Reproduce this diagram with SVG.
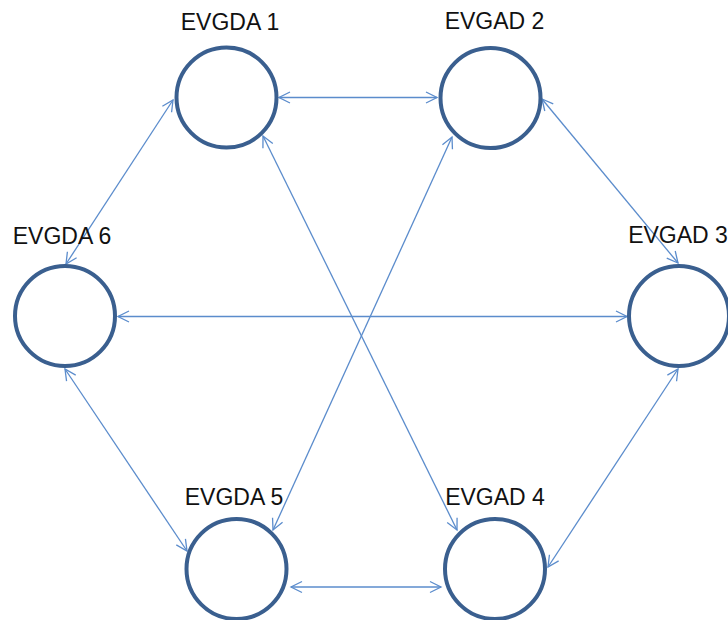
<svg xmlns="http://www.w3.org/2000/svg" width="728" height="620" viewBox="0 0 728 620">
<style>
.node{fill:#fff;stroke:#3a5f8f;stroke-width:4}
.lbl{font-family:"Liberation Sans",Arial,sans-serif;font-size:23px;fill:#111;text-anchor:middle}
.edge{stroke:#5b8ccc;stroke-width:1.3;fill:none;marker-start:url(#ah);marker-end:url(#ah)}
</style>
<defs>
<marker id="ah" markerUnits="userSpaceOnUse" markerWidth="14" markerHeight="14" viewBox="0 0 14 14" refX="12" refY="7" orient="auto-start-reverse">
<path d="M1,1.5 L12,7 L1,12.5" fill="none" stroke="#5b8ccc" stroke-width="1.3"/>
</marker>
</defs>
<rect width="728" height="620" fill="#fff"/>
<g id="connectors">
<line class="edge" x1="279" y1="97.5" x2="437" y2="97.5"/>
<line class="edge" x1="173" y1="100" x2="66" y2="264"/>
<line class="edge" x1="263" y1="136" x2="457" y2="530"/>
<line class="edge" x1="452" y1="137" x2="273" y2="530"/>
<line class="edge" x1="542" y1="99" x2="678" y2="263"/>
<line class="edge" x1="118" y1="316.5" x2="627" y2="316.5"/>
<line class="edge" x1="65" y1="369" x2="187" y2="551"/>
<line class="edge" x1="678" y1="369" x2="548" y2="567"/>
<line class="edge" x1="291" y1="587" x2="441" y2="587"/>
</g>
<g id="n1"><circle class="node" cx="226.5" cy="97.5" r="50"/><text class="lbl" x="230" y="30">EVGDA 1</text></g>
<g id="n2"><circle class="node" cx="490.5" cy="98" r="50"/><text class="lbl" x="494.5" y="29">EVGAD 2</text></g>
<g id="n3"><circle class="node" cx="679" cy="316" r="50"/><text class="lbl" x="678" y="243">EVGAD 3</text></g>
<g id="n4"><circle class="node" cx="495" cy="569" r="50"/><text class="lbl" x="495" y="505">EVGAD 4</text></g>
<g id="n5"><circle class="node" cx="236.5" cy="569" r="50"/><text class="lbl" x="234" y="505">EVGDA 5</text></g>
<g id="n6"><circle class="node" cx="65" cy="316" r="50"/><text class="lbl" x="62" y="244">EVGDA 6</text></g>
</svg>
